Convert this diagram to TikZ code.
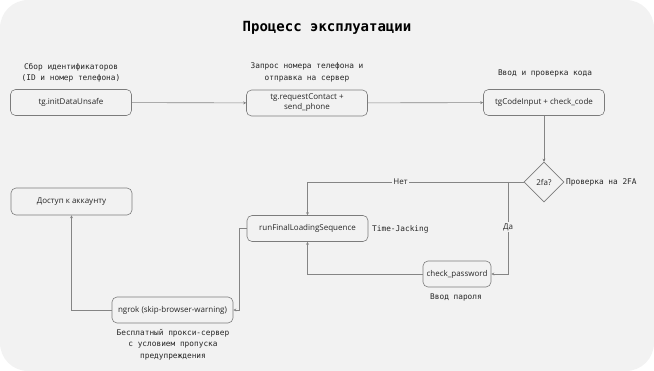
\documentclass[tikz,border=0pt]{standalone}
\usepackage{fontspec}
\setmainfont{Open Sans}
\setmonofont{DejaVu Sans Mono}
\usepackage{tikz}
\usetikzlibrary{arrows.meta,shapes.geometric,calc}

\definecolor{panel}{HTML}{F2F2F2}
\definecolor{edgegray}{HTML}{858585}
\definecolor{boxgray}{HTML}{7C7C7C}
\definecolor{ink}{HTML}{262626}

\tikzset{
  box/.style={draw=boxgray,rounded corners=5pt,fill=panel,line width=0.6pt,
    minimum width=121pt,minimum height=26pt,inner sep=2pt,align=center,
    font=\fontsize{8}{10}\selectfont,text=ink},
  tag/.style={font=\ttfamily\fontsize{7.8}{11.3}\selectfont,text=ink,align=center,inner sep=1pt},
  conn/.style={draw=edgegray,line width=0.6pt,>={Stealth[length=3pt,width=3pt]}}
}

\begin{document}
\begin{tikzpicture}[x=1pt,y=-1pt]
    \path[use as bounding box] (0,0) rectangle (654,371);
    \fill[panel,rounded corners=28pt] (0,0) rectangle (654,371);

    \node[font=\ttfamily\bfseries\fontsize{14}{16}\selectfont,text=black] (T) at (327,28) {Процесс эксплуатации};

    % upper row
    \node[box] (A1) at (71,102.5) {tg.initDataUnsafe};
    \node[box] (A2) at (307,103) {tg.requestContact +\\send\_phone};
    \node[box] (A3) at (544,102.5) {tgCodeInput + check\_code};
    \node[tag] (L1) at (71,72.5) {Сбор идентификаторов\\(ID и номер телефона)};
    \node[tag] (L2) at (307,72.5) {Запрос номера телефона и\\отправка на сервер};
    \node[tag] (L3) at (545,73) {Ввод и проверка кода};

    % decision
    \node[diamond,draw=boxgray,fill=panel,line width=0.6pt,minimum width=40pt,minimum height=40pt,
      inner sep=0pt,aspect=1,font=\fontsize{8}{10}\selectfont,text=ink] (D) at (544,182) {2fa?};
    \node[tag,anchor=west] (L4) at (565,182) {Проверка на 2FA};
    \coordinate (J) at (508,182);

    % lower part
    \node[box] (R) at (307.5,228.5) {runFinalLoadingSequence};
    \node[tag,anchor=west] (L5) at (371,229) {Time-Jacking};
    \node[box,minimum width=68pt] (P) at (457,274) {check\_password};
    \node[tag] (L6) at (456,297) {Ввод пароля};
    \node[box] (G) at (172.5,310) {ngrok (skip-browser-warning)};
    \node[tag] (L7) at (173,344.5) {Бесплатный прокси-сервер\\с условием пропуска\\предупреждения};
    \node[box,minimum height=27pt] (K) at (71.5,201.5) {Доступ к аккаунту};

    \path[conn,->]
      (A1) edge (A2)
      (A2) edge (A3)
      (A3) edge (D);
    \draw[conn,->] (D.west) -| node[pos=0.285,fill=panel,inner sep=1pt,font=\fontsize{8}{10}\selectfont,text=ink]{Нет} (R.north);
    \draw[conn,->] (J) |- node[pos=0.245,fill=panel,inner sep=1pt,font=\fontsize{8}{10}\selectfont,text=ink]{Да} (P.east);
    \draw[conn,->] (P.west) -| (R.south);
    \draw[conn,->] (R.west) -- ++(-7,0) |- (G.east);
    \draw[conn,->] (G.west) -| (K.south);
  \end{tikzpicture}
\end{document}
